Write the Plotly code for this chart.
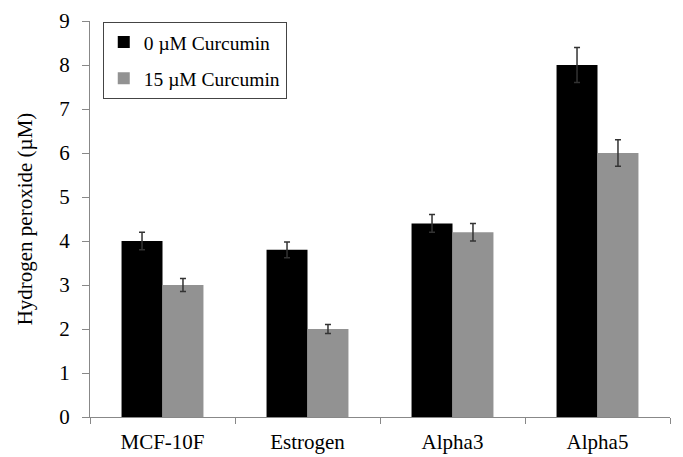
import plotly.graph_objects as go

categories = ["MCF-10F", "Estrogen", "Alpha3", "Alpha5"]
series_names = ["0 µM Curcumin", "15 µM Curcumin"]
values_0 = [4.0, 3.8, 4.4, 8.0]
errors_0 = [0.2, 0.18, 0.2, 0.4]
values_15 = [3.0, 2.0, 4.2, 6.0]
errors_15 = [0.15, 0.1, 0.2, 0.3]
y_ticks = [0, 1, 2, 3, 4, 5, 6, 7, 8, 9]

FONT = "Liberation Serif, Times New Roman, serif"

fig = go.Figure()
fig.add_trace(go.Bar(
    x=categories, y=values_0, name=series_names[0], legendgroup="a",
    marker=dict(color="#000000", line=dict(width=0)),
    error_y=dict(type="data", array=errors_0, visible=True,
                 color="#333333", thickness=1.5, width=3),
))
fig.add_trace(go.Bar(
    x=categories, y=values_15, name=series_names[1], legendgroup="b",
    marker=dict(color="#929292", line=dict(width=0)),
    error_y=dict(type="data", array=errors_15, visible=True,
                 color="#333333", thickness=1.5, width=3),
))

fig.update_layout(
    width=675, height=449,
    margin=dict(l=82, r=13, t=13, b=40),
    paper_bgcolor="white", plot_bgcolor="white",
    barmode="group", bargap=0.435, bargroupgap=0,
    font=dict(family=FONT, size=20, color="black"),
    showlegend=True,
    legend=dict(
        x=0.022, y=0.998, xanchor="left", yanchor="top",
        bgcolor="white", bordercolor="#444444", borderwidth=1,
        font=dict(family=FONT, size=19.5, color="black"),
        itemwidth=30, traceorder="grouped", tracegroupgap=8,
    ),
    xaxis=dict(
        automargin=False,
        showline=True, linecolor="#888888", linewidth=1,
        ticks="outside", ticklen=6, tickcolor="#888888",
        tickson="boundaries", showgrid=False,
        ticklabelstandoff=6,
        tickfont=dict(family=FONT, size=21, color="black"),
    ),
    yaxis=dict(
        automargin=False,
        range=[0, 9], tickvals=y_ticks,
        showline=True, linecolor="#888888", linewidth=1,
        ticks="outside", ticklen=7, tickcolor="#888888",
        ticklabelstandoff=8,
        showgrid=False, zeroline=False,
        tickfont=dict(family=FONT, size=21, color="black"),
        title=dict(text="Hydrogen peroxide (µM)",
                   font=dict(family=FONT, size=21, color="black"),
                   standoff=20),
    ),
)

fig.write_html("out.html")
